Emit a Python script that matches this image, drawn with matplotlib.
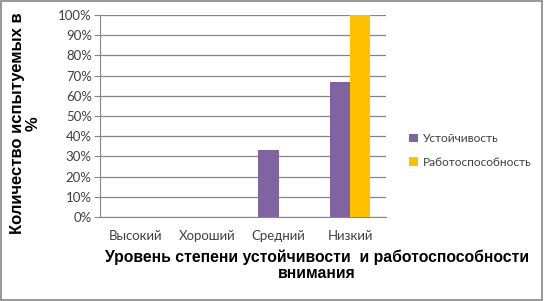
import numpy as np
import matplotlib.pyplot as plt
from matplotlib.patches import Rectangle
from matplotlib.ticker import PercentFormatter

categories = ['Высокий', 'Хороший', 'Средний', 'Низкий']
stability = [0, 0, 33, 67]
workability = [0, 0, 0, 100]
series_names = ['Устойчивость', 'Работоспособность']

fig = plt.figure(figsize=(5.44, 3.01), dpi=100)
ax = fig.add_axes([0.184, 0.279, 0.525, 0.671])

x = np.arange(len(categories))
w = 0.285
ax.bar(x - w / 2, stability, width=w, color='#8064A2', label=series_names[0], zorder=3)
ax.bar(x + w / 2, workability, width=w, color='#FFC000', label=series_names[1], zorder=3)

ax.set_xlim(-0.5, 3.5)
ax.set_ylim(0, 100)
ax.set_yticks(np.arange(0, 101, 10))
ax.yaxis.set_major_formatter(PercentFormatter(decimals=0))
ax.set_xticks(x)
ax.set_xticklabels(categories)
ax.grid(axis='y', color='#868686', linewidth=0.9, zorder=0)
for side in ['top', 'right']:
    ax.spines[side].set_visible(False)
ax.spines['left'].set_color('#868686')
ax.spines['bottom'].set_color('#868686')
ax.tick_params(axis='y', length=4, color='#868686', labelsize=9.5, labelcolor='#404040', pad=2)
ax.tick_params(axis='x', length=0, labelsize=9.5, labelcolor='#404040', pad=9)
for lab in ax.get_xticklabels() + ax.get_yticklabels():
    lab.set_family('Lato')

fig.text(0.046, 0.59, 'Количество испытуемых в\n%', rotation=90, ha='center', va='center',
         fontsize=12, fontweight='bold', family='Liberation Sans', linespacing=1.05)
fig.text(0.583, 0.12, 'Уровень степени устойчивости  и работоспособности\nвнимания',
         ha='center', va='center', fontsize=11.3, fontweight='bold', family='Liberation Sans',
         linespacing=1.1)

leg = fig.legend(loc='center left', bbox_to_anchor=(0.752, 0.50), frameon=False,
                 borderaxespad=0, borderpad=0,
                 handlelength=0.75, handleheight=0.75, handletextpad=0.4, labelspacing=1.05,
                 prop={'family': 'Lato', 'size': 8.6})
for t in leg.get_texts():
    t.set_color('#404040')

fig.patches.append(Rectangle((0.002, 0.003), 0.995, 0.994, transform=fig.transFigure,
                             fill=False, edgecolor='#868686', linewidth=1.2))

fig.savefig('out.png', dpi=100)
